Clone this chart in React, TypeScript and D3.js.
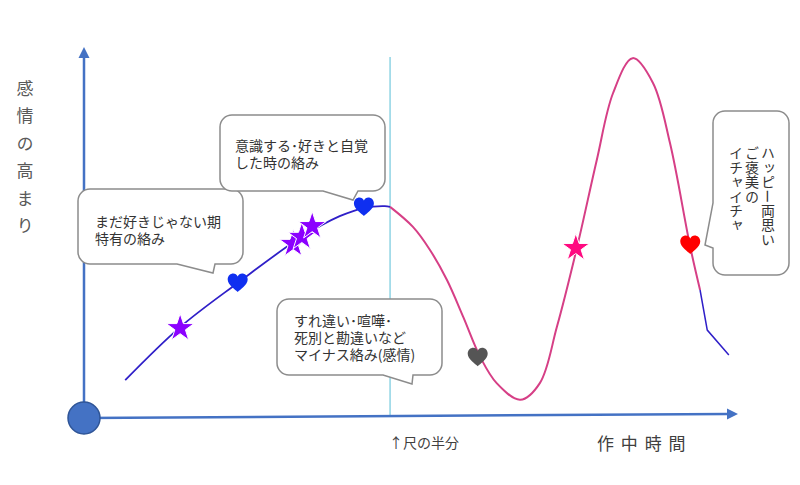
import { useEffect, useRef } from 'react';
import * as d3 from 'd3';

const WIDTH = 800;
const HEIGHT = 485;
const FONT = "'Noto Sans CJK JP', 'Noto Sans', sans-serif";

// time through the story (0-100) vs. emotional level (0-100)
const earlyTime = [6.3, 14.7, 23.5, 33.0, 39.1, 42.8, 46.0, 46.8];
const earlyLevel = [10.2, 24.5, 36.4, 48.5, 54.4, 56.6, 57.1, 56.9];
const dramaTime = [46.8, 50.3, 52.9, 55.5, 58.0, 60.6, 63.1, 66.7, 69.7, 72.3, 75.4, 78.4, 80.9, 83.9, 87.0, 89.6, 92.7, 94.2];
const dramaLevel = [56.9, 51.5, 45.3, 37.2, 27.2, 16.4, 9.4, 4.9, 9.4, 24.5, 46.1, 69.5, 87.6, 97.0, 90.3, 74.1, 46.1, 34.5];
const endTime = [94.2, 95.3, 98.6];
const endLevel = [34.5, 23.7, 17.0];

const halfTime = 46.8;

// markers on the curve
const markerShape = ['star', 'heart', 'star', 'star', 'star', 'heart', 'heart', 'star', 'heart'];
const markerColor = ['#8b00ff', '#0f2ff0', '#8b00ff', '#8b00ff', '#8b00ff', '#0f2ff0', '#555555', '#ff0a80', '#ff0000'];
const markerTime = [14.7, 23.5, 32.0, 33.3, 34.9, 42.8, 60.2, 75.2, 92.7];
const markerLevel = [24.5, 36.4, 47.2, 49.1, 52.0, 56.9, 16.4, 46.1, 46.6];

// labels
const yLabel = '感情の高まり';
const xLabel = '作 中 時 間';
const halfLabel = '↑尺の半分';
const noteEarly = ['まだ好きじゃない期', '特有の絡み'];
const noteAware = ['意識する･好きと自覚', 'した時の絡み'];
const noteMinus = ['すれ違い･喧嘩･', '死別と勘違いなど', 'マイナス絡み(感情)'];
const noteHappy = ['ハッピー両思い', 'ご褒美の', 'イチャイチャ'];

function bottomCallout(x: number, y: number, w: number, h: number, r: number, b1: number, b2: number, tx: number, ty: number) {
  return `M${x + r},${y} H${x + w - r} A${r},${r} 0 0 1 ${x + w},${y + r} V${y + h - r} A${r},${r} 0 0 1 ${x + w - r},${y + h} H${b2} L${tx},${ty} L${b1},${y + h} H${x + r} A${r},${r} 0 0 1 ${x},${y + h - r} V${y + r} A${r},${r} 0 0 1 ${x + r},${y} Z`;
}

function leftCallout(x: number, y: number, w: number, h: number, r: number, b1: number, b2: number, tx: number, ty: number) {
  return `M${x + r},${y} H${x + w - r} A${r},${r} 0 0 1 ${x + w},${y + r} V${y + h - r} A${r},${r} 0 0 1 ${x + w - r},${y + h} H${x + r} A${r},${r} 0 0 1 ${x},${y + h - r} V${b2} L${tx},${ty} L${x},${b1} V${y + r} A${r},${r} 0 0 1 ${x + r},${y} Z`;
}

const HEART =
  'M0,9 C-2,7 -10,2 -10,-3.5 C-10,-7.5 -7,-9.5 -4.5,-9.5 C-2.5,-9.5 -0.8,-8.2 0,-6.5 C0.8,-8.2 2.5,-9.5 4.5,-9.5 C7,-9.5 10,-7.5 10,-3.5 C10,2 2,7 0,9 Z';

export default function App() {
  const svgRef = useRef<SVGSVGElement>(null);

  useEffect(() => {
    if (!svgRef.current) return;
    const svg = d3.select(svgRef.current);
    svg.selectAll('*').remove();

    const x = d3.scaleLinear().domain([0, 100]).range([84, 738]);
    const y = d3.scaleLinear().domain([0, 100]).range([418, 47]);

    const axisColor = '#4472c4';

    // half-way line
    svg
      .append('line')
      .attr('x1', x(halfTime))
      .attr('x2', x(halfTime))
      .attr('y1', 57)
      .attr('y2', 416)
      .attr('stroke', '#8fd4e4')
      .attr('stroke-width', 1.5);

    // axes
    svg
      .append('line')
      .attr('x1', x(0))
      .attr('y1', y(0))
      .attr('x2', x(0))
      .attr('y2', y(100) + 10)
      .attr('stroke', axisColor)
      .attr('stroke-width', 2.5);
    svg
      .append('path')
      .attr('d', `M${x(0)},${y(100)} L${x(0) - 5.5},${y(100) + 11} L${x(0) + 5.5},${y(100) + 11} Z`)
      .attr('fill', axisColor);

    const xEndY = y(0) - 4;
    svg
      .append('line')
      .attr('x1', x(0))
      .attr('y1', y(0))
      .attr('x2', x(100) - 10)
      .attr('y2', xEndY)
      .attr('stroke', axisColor)
      .attr('stroke-width', 2.5);
    svg
      .append('path')
      .attr('d', `M${x(100)},${xEndY} L${x(100) - 11},${xEndY - 5.5} L${x(100) - 11},${xEndY + 5.5} Z`)
      .attr('fill', axisColor);

    // curves
    const smooth = d3.line<number>().curve(d3.curveCatmullRom.alpha(0.5));

    svg
      .append('path')
      .attr('d', smooth.x((t) => x(t)).y((_, i) => y(earlyLevel[i]))(earlyTime))
      .attr('fill', 'none')
      .attr('stroke', '#2f1fc8')
      .attr('stroke-width', 1.8);

    svg
      .append('path')
      .attr('d', smooth.x((t) => x(t)).y((_, i) => y(dramaLevel[i]))(dramaTime))
      .attr('fill', 'none')
      .attr('stroke', '#d63f86')
      .attr('stroke-width', 2);

    svg
      .append('path')
      .attr(
        'd',
        d3
          .line<number>()
          .x((t) => x(t))
          .y((_, i) => y(endLevel[i]))(endTime)
      )
      .attr('fill', 'none')
      .attr('stroke', '#2f1fc8')
      .attr('stroke-width', 1.5);

    // origin dot
    svg
      .append('circle')
      .attr('cx', x(0))
      .attr('cy', y(0))
      .attr('r', 16)
      .attr('fill', axisColor)
      .attr('stroke', '#2f5597')
      .attr('stroke-width', 1.5);

    // markers
    const star = d3.symbol().type(d3.symbolStar).size(240)() as string;
    markerShape.forEach((shape, i) => {
      svg
        .append('path')
        .attr('d', shape === 'star' ? star : HEART)
        .attr('transform', `translate(${x(markerTime[i])},${y(markerLevel[i]) + (shape === 'star' ? 1 : 0)})`)
        .attr('fill', markerColor[i])
        .attr('stroke', shape === 'star' ? '#ffffff' : 'none')
        .attr('stroke-width', 1);
    });

    // callouts
    const calloutStroke = '#8c8c8c';
    const textColor = '#333333';
    const addNote = (d: string, lines: string[], tx: number, ty: number) => {
      svg
        .append('path')
        .attr('d', d)
        .attr('fill', '#ffffff')
        .attr('stroke', calloutStroke)
        .attr('stroke-width', 1.5);
      lines.forEach((line, i) => {
        svg
          .append('text')
          .attr('x', tx)
          .attr('y', ty + i * 17)
          .attr('dominant-baseline', 'central')
          .attr('font-family', FONT)
          .attr('font-size', 14)
          .attr('fill', textColor)
          .text(line);
      });
    };

    addNote(bottomCallout(78, 189, 165, 75, 12, 177, 215, 213, 273), noteEarly, 95, 221);
    addNote(bottomCallout(220, 115, 165, 76, 12, 323, 358, 353, 200), noteAware, 235, 145);
    addNote(bottomCallout(277, 299, 165, 76, 12, 383, 413, 412, 384), noteMinus, 294, 320);

    svg
      .append('path')
      .attr('d', leftCallout(713, 111, 76, 164, 12, 203, 248, 705, 245))
      .attr('fill', '#ffffff')
      .attr('stroke', calloutStroke)
      .attr('stroke-width', 1.5);

    // vertical text (right column first); the long-vowel bar is turned upright by hand
    const pitch = 14.4;
    noteHappy.forEach((line, col) => {
      const cx = 768 - col * 16;
      const top = 146;
      const chars = Array.from(line);
      let start = 0;
      const flush = (end: number) => {
        if (end > start) {
          svg
            .append('text')
            .attr('x', cx)
            .attr('y', top + start * pitch)
            .style('writing-mode', 'vertical-rl')
            .attr('font-family', FONT)
            .attr('font-size', 14)
            .attr('letter-spacing', pitch - 14)
            .attr('fill', textColor)
            .text(chars.slice(start, end).join(''));
        }
      };
      chars.forEach((ch, k) => {
        if (ch === 'ー') {
          flush(k);
          const cy = top + k * pitch + 7;
          svg
            .append('text')
            .attr('x', cx)
            .attr('y', cy)
            .attr('text-anchor', 'middle')
            .attr('dominant-baseline', 'central')
            .attr('transform', `rotate(90,${cx},${cy})`)
            .attr('font-family', FONT)
            .attr('font-size', 14)
            .attr('fill', textColor)
            .text(ch);
          start = k + 1;
        }
      });
      flush(chars.length);
    });

    // axis labels
    svg
      .append('text')
      .attr('x', 25)
      .attr('y', 80)
      .style('writing-mode', 'vertical-rl')
      .attr('font-family', FONT)
      .attr('font-size', 17)
      .attr('letter-spacing', 10.5)
      .attr('fill', '#595959')
      .text(yLabel);

    svg
      .append('text')
      .attr('x', 642)
      .attr('y', 442)
      .attr('text-anchor', 'middle')
      .attr('dominant-baseline', 'central')
      .attr('font-family', FONT)
      .attr('font-size', 17)
      .attr('letter-spacing', 1.5)
      .attr('fill', '#404040')
      .text(xLabel);

    svg
      .append('text')
      .attr('x', x(halfTime) - 1)
      .attr('y', 442)
      .attr('dominant-baseline', 'central')
      .attr('font-family', FONT)
      .attr('font-size', 14)
      .attr('fill', '#404040')
      .text(halfLabel);
  }, []);

  return (
    <svg
      ref={svgRef}
      width={WIDTH}
      height={HEIGHT}
      style={{ position: 'absolute', left: 0, top: 0, background: '#ffffff' }}
    />
  );
}
